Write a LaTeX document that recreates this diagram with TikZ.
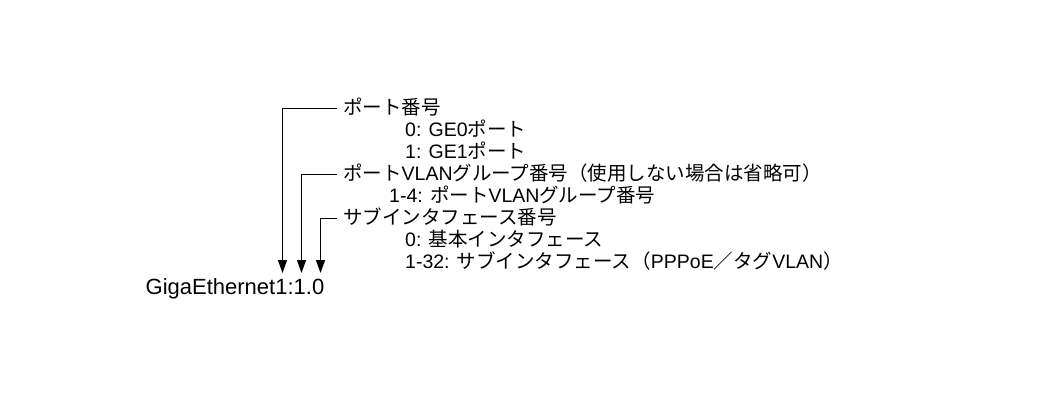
\documentclass[tikz,border=0pt]{standalone}
\usepackage{fontspec}
\setmainfont{Liberation Sans}
\newfontfamily\jp{Noto Sans CJK JP}
\usetikzlibrary{arrows.meta}
\tikzset{
  lbl/.style={anchor=base west, inner ysep=0pt, inner xsep=0pt, font=\fontsize{19.5}{22}\selectfont, text height=15pt, text depth=3pt},
  head/.style={lbl, inner xsep=6pt},
  conn/.style={draw=black, line width=1.3pt, -{Triangle[length=13pt,width=9pt]}},
  title/.style={anchor=base west, inner sep=0pt, font=\fontsize{22}{24}\selectfont}
}
\begin{document}
\begin{tikzpicture}[x=1pt,y=-1pt]
\useasboundingbox (0,0) rectangle (1063,420);
\fill[white] (0,0) rectangle (1063,420);
\node[title] (ge) at (145.5,294) {GigaEthernet1:1.0};
\node[head] (h1) at (337,114.5) {\jp ポート番号};
\node[lbl] (s11) at (405,136.5) {0: GE0{\jp ポート}};
\node[lbl] (s12) at (405,158.5) {1: GE1{\jp ポート}};
\node[head] (h2) at (337,180.5) {{\jp ポート}VLAN{\jp グループ番号（使用しない場合は省略可）}};
\node[lbl] (s21) at (389,202.5) {1-4: {\jp ポート}VLAN{\jp グループ番号}};
\node[head] (h3) at (337,224.5) {\jp サブインタフェース番号};
\node[lbl] (s31) at (405,246.5) {0: {\jp 基本インタフェース}};
\node[lbl] (s32) at (405,268.5) {1-32: {\jp サブインタフェース（}PPPoE{\jp ／タグ}VLAN{\jp ）}};
\coordinate (t1) at (282.5,273);
\coordinate (t2) at (301.5,273);
\coordinate (t3) at (320.5,273);
\draw[conn] (h1.west) -| (t1);
\draw[conn] (h2.west) -| (t2);
\draw[conn] (h3.west) -| (t3);
\end{tikzpicture}
\end{document}
